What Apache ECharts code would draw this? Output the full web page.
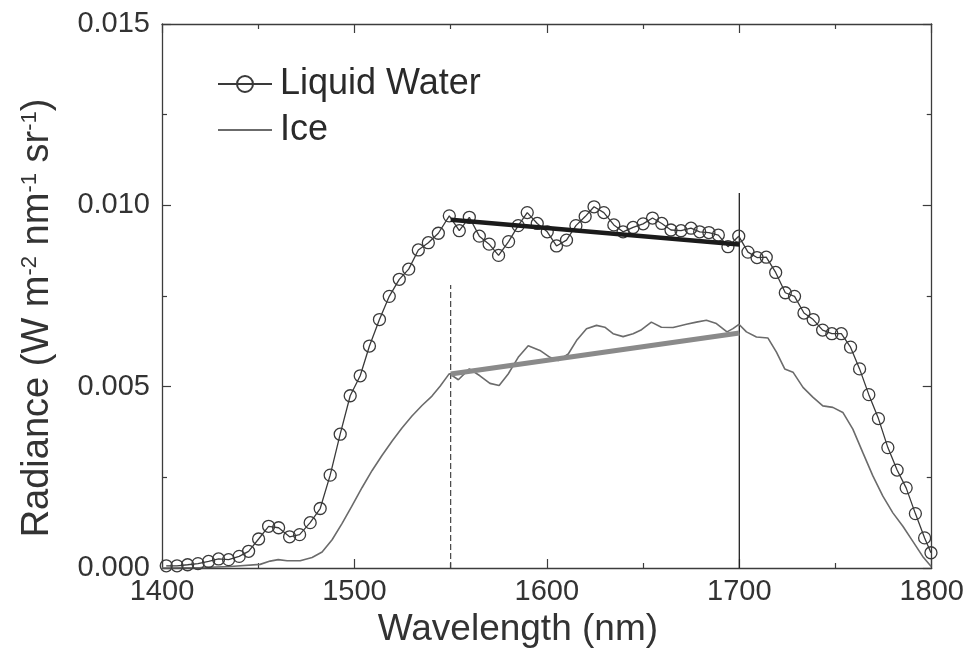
<!DOCTYPE html>
<html>
<head>
<meta charset="utf-8">
<title>Radiance</title>
<script src="https://cdn.jsdelivr.net/npm/echarts/dist/echarts.min.js"></script>
<style>
	html, body { margin: 0; padding: 0; background: #fff; }
	#main { width: 967px; height: 654px; }
</style>
</head>
<body>
<div id="main"></div>
<script>
"use strict";
// 液态水 (带圆圈)
var waterWavelength = [1402.2, 1407.8, 1413.3, 1418.7, 1424.2, 1429.4, 1434.6, 1440.1, 1445.0, 1450.2,
	1455.4, 1460.6, 1466.3, 1471.5, 1477.0, 1482.2, 1487.4, 1492.6, 1497.8, 1503.0,
	1507.8, 1513.0, 1518.1, 1523.3, 1528.2, 1533.2, 1538.4, 1543.6,
	1549.3, 1554.5, 1559.7, 1564.9, 1570.0, 1574.9, 1580.1, 1585.1, 1589.8, 1595.0,
	1600.2, 1605.0, 1610.2, 1615.1, 1619.9, 1624.5, 1629.6, 1634.8, 1639.6, 1644.8,
	1650.0, 1654.9, 1659.7, 1664.5, 1669.7, 1674.9, 1679.4, 1684.2, 1689.1, 1694.1,
	1699.7, 1704.5, 1709.2, 1714.0, 1718.9, 1723.9, 1728.7, 1733.6, 1738.4, 1743.3,
	1748.1, 1753.0, 1757.8, 1762.5, 1767.3, 1772.3, 1777.2, 1782.0, 1786.7, 1791.5,
	1796.3, 1799.6];
var waterRadiance = [0.00006, 0.00006, 0.00009, 0.00012, 0.00018, 0.00025, 0.00023, 0.00032, 0.00046, 0.00080,
	0.00115, 0.00111, 0.00086, 0.00092, 0.00125, 0.00164, 0.00256, 0.00369, 0.00475, 0.00530,
	0.00612, 0.00685, 0.00749, 0.00796, 0.00824, 0.00877, 0.00897, 0.00923,
	0.00971, 0.00930, 0.00967, 0.00915, 0.00893, 0.00862, 0.00900, 0.00944, 0.00980, 0.00950,
	0.00927, 0.00888, 0.00904, 0.00944, 0.00969, 0.00996, 0.00980, 0.00946, 0.00927, 0.00939,
	0.00949, 0.00965, 0.00950, 0.00932, 0.00930, 0.00937, 0.00927, 0.00925, 0.00918, 0.00886,
	0.00915, 0.00871, 0.00856, 0.00857, 0.00815, 0.00759, 0.00749, 0.00703, 0.00685, 0.00656,
	0.00646, 0.00646, 0.00609, 0.00549, 0.00478, 0.00412, 0.00332, 0.00270, 0.00221, 0.00150,
	0.00083, 0.00042];

// 冰
var iceWavelength = [1400, 1420, 1435.5, 1451.0, 1456.2, 1460.4, 1465.0, 1471.8, 1478.0, 1483.2,
	1488.4, 1493.6, 1498.8, 1504.0, 1509.2, 1514.4, 1519.6, 1524.7, 1529.9, 1535.1,
	1540.3, 1544.5, 1549.3, 1554.0, 1559.7, 1565.2, 1570.4, 1575.2, 1579.9, 1585.1,
	1590.3, 1596.4, 1601.6, 1605.9, 1611.1, 1615.4, 1620.6, 1625.8, 1630.1, 1634.4,
	1639.6, 1644.8, 1649.2, 1654.3, 1659.5, 1665.6, 1672.5, 1677.7, 1682.9, 1688.1,
	1693.6, 1696.7, 1699.8, 1703.7, 1708.9, 1714.9, 1719.3, 1723.6, 1727.9, 1733.1,
	1738.2, 1743.4, 1748.6, 1753.8, 1759.0, 1764.2, 1769.4, 1774.6, 1779.8, 1785.0,
	1790.1, 1795.3, 1799.7];
var iceRadiance = [0, 0.00001, 0.00004, 0.00010, 0.00019, 0.00023, 0.00020, 0.00020, 0.00029, 0.00044,
	0.00078, 0.00123, 0.00172, 0.00222, 0.00269, 0.00311, 0.00350, 0.00386, 0.00419, 0.00448,
	0.00474, 0.00501, 0.00536, 0.00519, 0.00549, 0.00530, 0.00509, 0.00503, 0.00535, 0.00581,
	0.00613, 0.00600, 0.00581, 0.00572, 0.00590, 0.00627, 0.00660, 0.00669, 0.00664, 0.00646,
	0.00638, 0.00646, 0.00657, 0.00678, 0.00664, 0.00663, 0.00672, 0.00678, 0.00683, 0.00674,
	0.00651, 0.00660, 0.00672, 0.00651, 0.00637, 0.00634, 0.00595, 0.00549, 0.00540, 0.00498,
	0.00471, 0.00447, 0.00443, 0.00429, 0.00383, 0.00318, 0.00254, 0.00198, 0.00152, 0.00115,
	0.00074, 0.00032, 0.00004];

// 拟合直线 1550-1700
var fitWavelength = [1550, 1700];
var waterFit = [0.00960, 0.00892];
var iceFit = [0.00535, 0.00648];

// 竖线 (虚线 1550, 实线 1700)
var dashedLineX = 1550;
var dashedLineTop = 0.0078;
var solidLineX = 1700;
var solidLineTop = 0.01034;

function pairs(xs, ys) {
	var out = [];
	for (var i = 0; i < xs.length; i++) {
		out.push([ xs[i], ys[i] ]);
	}
	return out;
}

var FONT = "'Liberation Sans', Arial, sans-serif";
var AXIS_COLOR = '#3c3c3c';

function baseX(pos, showLabel) {
	return {
		type : 'value',
		position : pos,
		min : 1400,
		max : 1800,
		interval : 100,
		axisLine : { onZero : false, lineStyle : { color : AXIS_COLOR, width : 1.3 } },
		axisTick : { inside : true, length : 9, lineStyle : { color : AXIS_COLOR, width : 1.2 } },
		minorTick : { show : true, splitNumber : 2, length : 5, lineStyle : { color : AXIS_COLOR, width : 1.2 } },
		splitLine : { show : false },
		axisLabel : {
			show : showLabel, fontSize : 29, fontFamily : FONT, color : '#333', margin : 9,
			formatter : function(v) { return String(v); }
		}
	};
}

function baseY(pos, showLabel) {
	return {
		type : 'value',
		position : pos,
		min : 0,
		max : 0.015,
		interval : 0.005,
		axisLine : { show : true, onZero : false, lineStyle : { color : AXIS_COLOR, width : 1.3 } },
		axisTick : { show : true, inside : true, length : 9, lineStyle : { color : AXIS_COLOR, width : 1.2 } },
		minorTick : { show : true, splitNumber : 2, length : 5, lineStyle : { color : AXIS_COLOR, width : 1.2 } },
		splitLine : { show : false },
		axisLabel : {
			show : showLabel, fontSize : 29, fontFamily : FONT, color : '#333', margin : 12,
			formatter : function(v) { return v.toFixed(3); }
		}
	};
}

var xBottom = baseX('bottom', true);
xBottom.name = 'Wavelength (nm)';
xBottom.nameLocation = 'middle';
xBottom.nameGap = 41;
xBottom.nameTextStyle = { fontSize : 37, fontFamily : FONT, color : '#333', padding : [ 0, 58, 0, 0 ] };

var chart = echarts.init(document.getElementById('main'));
var option = {
	backgroundColor : '#fff',
	animation : false,
	grid : { left : 162, right : 35, top : 24, bottom : 86, containLabel : false },
	legend : {
		data : [ { name : 'Liquid Water' }, { name : 'Ice', itemStyle : { opacity : 0 } } ],
		orient : 'vertical',
		left : 212,
		top : 61,
		itemWidth : 54,
		itemHeight : 20,
		itemGap : 10,
		textStyle : { fontSize : 36, fontFamily : FONT, color : '#2a2a2a', padding : [ 0, 0, 0, 3 ] }
	},
	xAxis : [ xBottom, baseX('top', false) ],
	yAxis : [ baseY('left', true), baseY('right', false) ],
	graphic : [ {
		type : 'text',
		x : 38,
		y : 318,
		rotation : Math.PI / 2,
		style : {
			text : 'Radiance (W m{sup|-2} nm{sup|-1} sr{sup|-1})',
			font : '38px ' + FONT,
			fill : '#333',
			align : 'center',
			verticalAlign : 'middle',
			rich : {
				sup : { fontSize : 22, fontFamily : FONT, fill : '#333', verticalAlign : 'top', padding : [ 0, 0, 13, 0 ] }
			}
		}
	} ],
	series : [ {
		name : 'Ice',
		type : 'line',
		data : pairs(iceWavelength, iceRadiance),
		showSymbol : false,
		symbol : 'none',
		lineStyle : { color : '#6b6b6b', width : 1.6 },
		itemStyle : { color : '#6b6b6b' },
		z : 2
	}, {
		name : 'Liquid Water',
		type : 'line',
		data : pairs(waterWavelength, waterRadiance),
		symbol : 'circle',
		symbolSize : 12,
		lineStyle : { color : '#3a3a3a', width : 1.3 },
		itemStyle : { color : 'rgba(255,255,255,0)', borderColor : '#3a3a3a', borderWidth : 1.3 },
		z : 3
	}, {
		name : 'fitWater',
		type : 'line',
		data : pairs(fitWavelength, waterFit),
		symbol : 'none',
		silent : true,
		lineStyle : { color : '#1b1b1b', width : 4.5 },
		z : 4
	}, {
		name : 'fitIce',
		type : 'line',
		data : pairs(fitWavelength, iceFit),
		symbol : 'none',
		silent : true,
		lineStyle : { color : '#8a8a8a', width : 5 },
		z : 4
	}, {
		name : 'dashed',
		type : 'line',
		data : [ [ dashedLineX, 0 ], [ dashedLineX, dashedLineTop ] ],
		symbol : 'none',
		silent : true,
		lineStyle : { color : '#444', width : 1.2, type : [ 6, 3 ] },
		z : 1
	}, {
		name : 'solid',
		type : 'line',
		data : [ [ solidLineX, 0 ], [ solidLineX, solidLineTop ] ],
		symbol : 'none',
		silent : true,
		lineStyle : { color : '#222', width : 1.3 },
		z : 1
	} ]
};
chart.setOption(option);
</script>
</body>
</html>
